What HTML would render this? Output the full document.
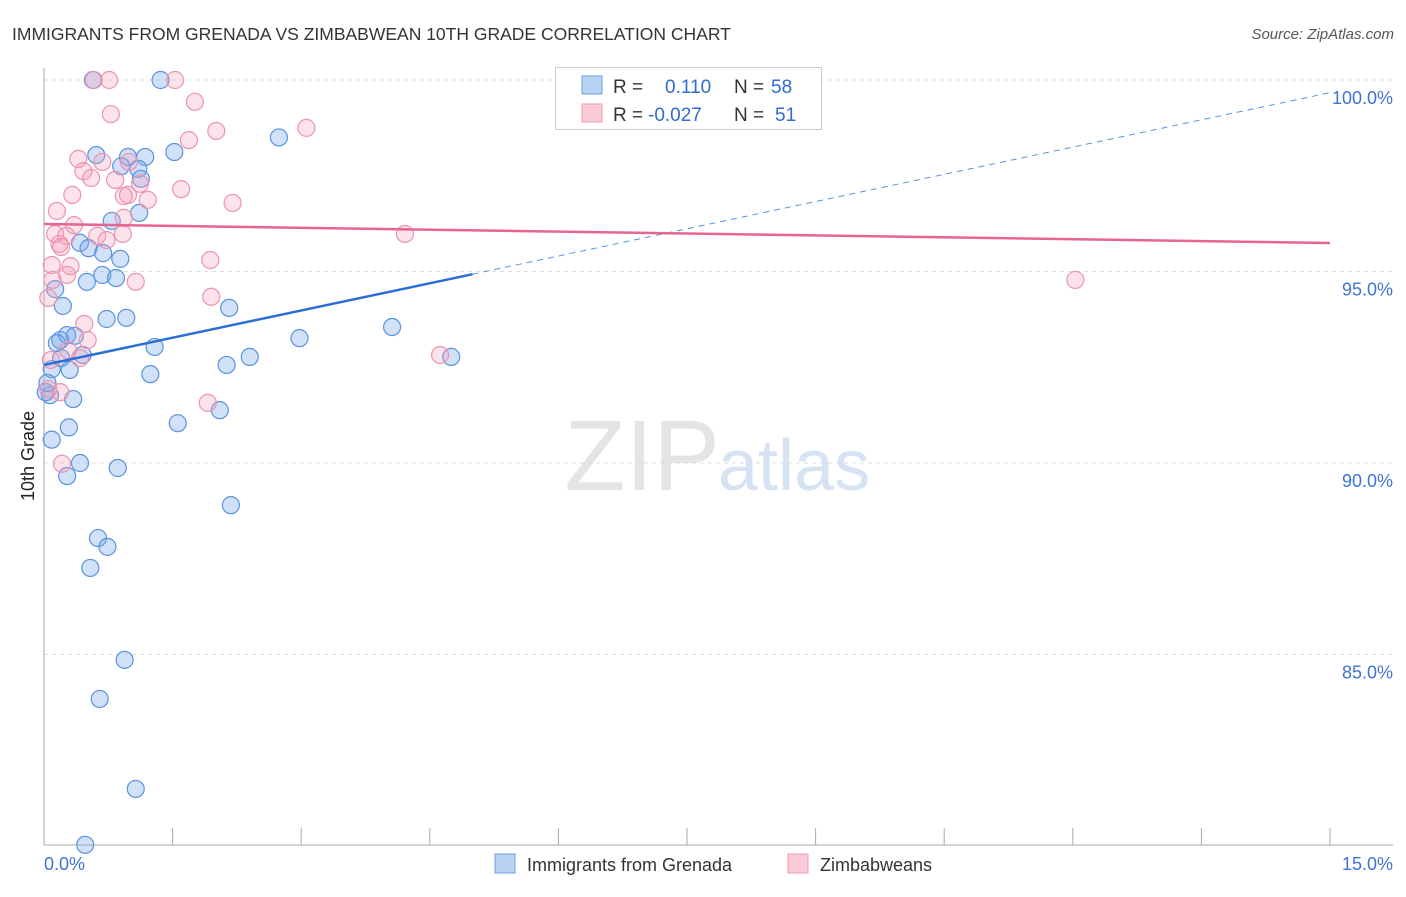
<!DOCTYPE html>
<html><head><meta charset="utf-8"><style>
body{margin:0;background:#fff;font-family:"Liberation Sans",sans-serif;}
svg text{font-family:"Liberation Sans",sans-serif;}
</style></head><body>
<svg id="chart" width="1406" height="892" xmlns="http://www.w3.org/2000/svg">
<text x="12" y="40" font-size="17.5" fill="#333">IMMIGRANTS FROM GRENADA VS ZIMBABWEAN 10TH GRADE CORRELATION CHART</text>
<text x="1394" y="39" font-size="15" fill="#555" text-anchor="end" font-style="italic">Source: ZipAtlas.com</text>
<text x="720" y="490" font-size="100" fill="#e4e4e4" text-anchor="end" font-family="Liberation Serif">ZIP</text>
<text x="718" y="490" font-size="72" fill="#d6e3f3">atlas</text>
<g id="grid"></g><g id="axes"></g><g id="marks"></g><g id="trends"></g>
<text transform="translate(34,456) rotate(-90)" font-size="18" fill="#222" text-anchor="middle">10th Grade</text>
<g>
<rect x="555.5" y="67.5" width="266" height="62" fill="#fff" stroke="#ccc"/>
<rect x="582" y="76" width="20" height="18" fill="#b9d3f5" stroke="#6d9fe0"/>
<rect x="582" y="104" width="20" height="18" fill="#fbcbd8" stroke="#ee9ab2"/>
<text x="613" y="93" font-size="19" fill="#333">R = <tspan x="665" fill="#2f6bd0">0.110</tspan><tspan x="734" fill="#333">N = </tspan><tspan x="771" fill="#2f6bd0">58</tspan></text>
<text x="613" y="121" font-size="19" fill="#333">R = <tspan x="648" fill="#2f6bd0">-0.027</tspan><tspan x="734" fill="#333">N = </tspan><tspan x="775" fill="#2f6bd0">51</tspan></text>
</g>
<g>
<rect x="495" y="854" width="20" height="19" fill="#b9d3f5" stroke="#6d9fe0"/>
<text x="527" y="871" font-size="18" fill="#333">Immigrants from Grenada</text>
<rect x="788" y="854" width="20" height="19" fill="#fbcbd8" stroke="#ee9ab2"/>
<text x="820" y="871" font-size="18" fill="#333">Zimbabweans</text>
</g>
</svg>
<script>
const xTickLabels=["0.0%","15.0%"];
const yTicks=[100,95,90,85];
const blueX=[0.57,1.36,2.74,0.61,0.98,1.18,1.52,0.90,1.10,1.13,1.11,0.79,0.42,0.52,0.69,0.89,0.50,0.68,0.84,0.13,0.22,2.16,0.73,0.96,0.19,0.27,0.36,0.15,2.98,4.06,0.45,0.20,1.29,0.30,0.09,2.40,2.13,1.24,0.34,0.07,2.05,0.02,1.56,0.29,0.09,0.42,0.86,0.27,2.18,0.63,0.74,0.54,0.94,0.65,1.07,0.48,4.75,0.04];
const blueY=[100.0,100.0,98.5,98.04,97.99,97.99,98.12,97.75,97.68,97.42,96.53,96.32,95.75,95.61,95.48,95.33,94.73,94.91,94.83,94.54,94.10,94.05,93.76,93.79,93.21,93.34,93.32,93.13,93.26,93.55,92.82,92.74,93.03,92.43,92.45,92.77,92.56,92.32,91.67,91.77,91.38,91.85,91.04,90.93,90.61,90.00,89.87,89.66,88.90,88.04,87.81,87.26,84.86,83.84,81.49,80.03,92.77,92.09];
const pinkX=[0.58,0.76,1.53,1.76,0.78,1.69,2.01,3.06,0.68,0.40,0.46,0.55,0.83,0.99,0.98,0.93,1.12,1.21,1.60,2.20,0.33,0.15,0.35,0.13,0.93,0.92,0.62,0.26,0.18,0.20,0.73,0.09,0.31,0.27,1.07,1.94,1.95,0.10,0.05,0.47,0.51,0.28,0.42,0.08,4.21,4.62,1.91,0.21,12.03,0.05,0.19];
const pinkY=[100.0,100.0,100.0,99.43,99.11,98.43,98.67,98.75,97.86,97.94,97.62,97.44,97.39,97.86,97.0,96.97,97.29,96.87,97.15,96.79,97.0,96.58,96.21,95.98,96.4,95.98,95.93,95.93,95.72,95.64,95.82,95.17,95.14,94.91,94.73,95.3,94.34,94.78,94.31,93.63,93.21,92.95,92.74,92.69,95.98,92.82,91.57,89.98,94.78,91.93,91.85];
const blueTrend=[92.56,0.474,5.0];
const pinkTrend=[96.24,-0.033];
const X0=44,X1=1330,Y100=80,PXPER=38.3;
const sx=v=>X0+(v/15)*(X1-X0);
const sy=v=>Y100+(100-v)*PXPER;
const NS="http://www.w3.org/2000/svg";
function mk(t,a,p){const e=document.createElementNS(NS,t);for(const k in a)e.setAttribute(k,a[k]);p.appendChild(e);return e;}
const grid=document.getElementById('grid'),axes=document.getElementById('axes'),marks=document.getElementById('marks'),trends=document.getElementById('trends');
yTicks.forEach(t=>{
 const l=mk('line',{x1:X0,x2:1393,y1:sy(t),y2:sy(t),stroke:'#ddd','stroke-dasharray':'4,4'},grid);
 
 
 const tx=mk('text',{x:1393,y:sy(t)+24,'font-size':18,fill:'#3d74d4','text-anchor':'end'},grid);
 tx.textContent=t.toFixed(1)+'%';
 
 
});
const ya=mk('line',{x1:X0,x2:X0,y1:68,y2:845,stroke:'#aaa'},axes);


const xa=mk('line',{x1:X0,x2:1393,y1:845,y2:845,stroke:'#aaa'},axes);


for(let i=0;i<=10;i++){const x=sx(i*1.5);const t=mk('line',{x1:x,x2:x,y1:828,y2:845,stroke:'#aaa'},axes);
 
 }
[[0,'start',44],[1,'end',1393]].forEach(([i,a,x])=>{const t=mk('text',{x:x,y:870,'font-size':18,fill:'#3d74d4','text-anchor':a},axes);t.textContent=xTickLabels[i];
 
 });
blueX.forEach((v,i)=>{const c=mk('circle',{cx:sx(v),cy:sy(blueY[i]),r:8.5,fill:'rgba(120,170,235,0.35)',stroke:'#5b93dd','stroke-width':1.2},marks);
 
 });
pinkX.forEach((v,i)=>{const c=mk('circle',{cx:sx(v),cy:sy(pinkY[i]),r:8.5,fill:'rgba(245,160,185,0.3)',stroke:'#ec94ae','stroke-width':1.2},marks);
 
 });
const bf=x=>blueTrend[0]+blueTrend[1]*x;
const b1=mk('line',{x1:sx(0),y1:sy(bf(0)),x2:sx(blueTrend[2]),y2:sy(bf(blueTrend[2])),stroke:'#2a6ed6','stroke-width':2.5},trends);


const b2=mk('line',{x1:sx(blueTrend[2]),y1:sy(bf(blueTrend[2])),x2:sx(15),y2:sy(bf(15)),stroke:'#5b93dd','stroke-width':1,'stroke-dasharray':'6,5'},trends);


const pf=x=>pinkTrend[0]+pinkTrend[1]*x;
const p1=mk('line',{x1:sx(0),y1:sy(pf(0)),x2:sx(15),y2:sy(pf(15)),stroke:'#e8658f','stroke-width':2.5},trends);


</script>
</body></html>
